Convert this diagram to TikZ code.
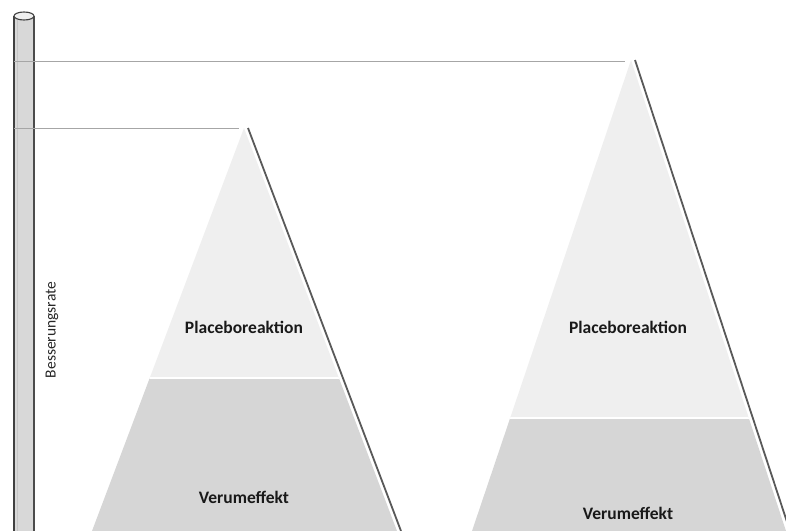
\documentclass[tikz,border=0pt]{standalone}
\usepackage{fontspec}
\setmainfont{Carlito}
\usetikzlibrary{calc}
\definecolor{toplight}{HTML}{EFEFEF}
\definecolor{botgrey}{HTML}{D6D6D6}
\definecolor{cylfill}{HTML}{D8D8D8}
\begin{document}
\begin{tikzpicture}[x=1pt,y=-1pt,
  lvl/.style={draw=gray!70, line width=1pt},
  shadowline/.style={draw=gray!70!black, line width=1.8pt},
  lbl/.style={font=\fontsize{17.5}{20}\selectfont\bfseries, text=black!90, inner sep=0pt},
  axlbl/.style={font=\fontsize{15.5}{18}\selectfont, text=black!85, inner sep=0pt, rotate=90}]
\useasboundingbox (0,0) rectangle (786,530);
% coordinates
\coordinate (A1) at (244,128);
\coordinate (A2) at (631,60);
\coordinate (L1) at (14,61);
\coordinate (L2) at (14,128);
\coordinate (E1) at (239,128);
\coordinate (E2) at (625,61);
% cylinder (axis)
\fill[cylfill] (14,16) rectangle (34,531);
\draw[gray!50!black, line width=1.6pt] (14,16) -- (14,531);
\draw[gray!60!black, line width=1.3pt] (34,16) -- (34,531);
\draw[gray!45, line width=0.8pt] (17,20) -- (17,531);
\draw[fill=gray!12, draw=gray!50!black, line width=1.1pt] (24,16) ellipse [x radius=10, y radius=4];
\node[axlbl] (ax) at (52,330) {Besserungsrate};
% level lines
\draw[lvl] (L1) -- (E2);
\draw[lvl] (L2) -- (E1);
% left pyramid
\draw[shadowline] ($(A1)+(4,0)$) -- (401,531);
\begin{scope}
\clip (A1) -- (92,531) -- (397,531) -- cycle;
\fill[toplight] (0,0) rectangle (786,378);
\fill[botgrey] (0,378) rectangle (786,531);
\draw[white, line width=2.2pt] (0,378) -- (786,378);
\end{scope}
\node[lbl] (p1) at (244,327) {Placeboreaktion};
\node[lbl] (v1) at (244,497) {Verumeffekt};
% right pyramid
\draw[shadowline] ($(A2)+(4,0)$) -- (790,531);
\begin{scope}
\clip (A2) -- (472,531) -- (786,531) -- cycle;
\fill[toplight] (0,0) rectangle (786,418);
\fill[botgrey] (0,418) rectangle (786,531);
\draw[white, line width=2.2pt] (0,418) -- (786,418);
\end{scope}
\node[lbl] (p2) at (628,327) {Placeboreaktion};
\node[lbl] (v2) at (628,513) {Verumeffekt};
\end{tikzpicture}
\end{document}
